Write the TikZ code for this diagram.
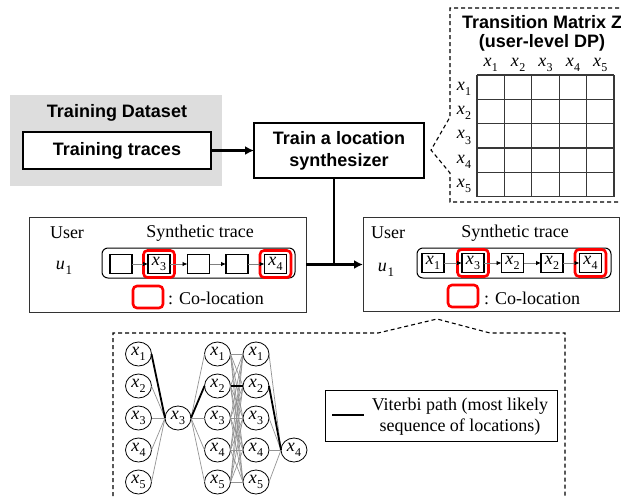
\documentclass[tikz,border=0pt]{standalone}
\usepackage{fontspec}
\setmainfont{Liberation Serif}
\setsansfont{Liberation Sans}
\usetikzlibrary{arrows.meta,shapes.geometric}

% location symbol x_i and user symbol u_i
\newcommand\loc[1]{\textit{x}\kern0.3pt\raisebox{-0.3em}{\fontsize{12}{12}\selectfont #1}}
\newcommand\usr[1]{\textit{u}\kern0.6pt\raisebox{-0.3em}{\fontsize{13}{13}\selectfont #1}}

\begin{document}
\begin{tikzpicture}[x=1pt,y=-1pt,
  every node/.style={inner sep=0pt, outer sep=0pt},
  txt/.style={font=\fontsize{18}{21}\selectfont},
  bold/.style={font=\fontsize{18}{22}\selectfont\sffamily\bfseries},
  heavybox/.style={draw=black, line width=2pt, fill=white},
  panel/.style={draw=black!80, line width=1pt, fill=white},
  track/.style={draw=black, line width=1pt, rounded corners=6pt},
  cell/.style={draw=black, line width=1.4pt, fill=white, minimum width=22pt, minimum height=19pt, txt},
  coloc/.style={draw=red, line width=2.6pt, rounded corners=4pt, minimum width=31pt, minimum height=27pt},
  hop/.style={draw=gray, line width=0.8pt, -{Latex[length=5pt,width=4.5pt,color=black]}},
  flow/.style={line width=2.2pt, -{Latex[length=9pt,width=9pt]}},
  callout/.style={draw=black, line width=1.1pt, dash pattern=on 4pt off 3pt},
  gridln/.style={draw=black!78, line width=1.2pt},
  tnode/.style={ellipse, draw=black, line width=0.8pt, fill=white, minimum width=26pt, minimum height=24pt, txt},
  weak/.style={draw=gray!85, line width=0.7pt},
  viterbi/.style={draw=black, line width=1.8pt}
]
\useasboundingbox (0,0) rectangle (621,496);

% ---------- training data ----------
\node[fill=gray!27, minimum width=212pt, minimum height=91pt] (dataset) at (116,140.5) {};
\node[bold] (datasettitle) at (117,113) {Training Dataset};
\node[heavybox, minimum width=188pt, minimum height=37pt, bold] (traces) at (117,150.5) {Training traces};

% ---------- synthesizer ----------
\node[heavybox, minimum width=170pt, minimum height=55pt, bold, align=center] (train) at (339,150.5)
  {Train a location\\synthesizer};
\draw[flow] (traces) -- (train);

% ---------- transition matrix callout ----------
\draw[callout] (640,8) -- (450,8) -- (450,117) -- (431,150) -- (450,173) -- (450,202) -- (640,202);
\node[bold, anchor=west] (mtitle) at (462,22) {Transition Matrix Z};
\node[bold] (msub) at (542,43) {(user-level DP)};
\foreach \i in {0,...,5} {
  \draw[gridln] ({477+27.4*\i},75) -- ({477+27.4*\i},196.7);
  \draw[gridln] (477,{75+24.34*\i}) -- (614,{75+24.34*\i});
}
\foreach \i in {1,...,5} {
  \node[txt] (col\i) at ({477+27.4*(\i-0.5)},65) {\loc{\i}};
  \node[txt] (row\i) at (464,{75+24.34*(\i-0.5)+1.5}) {\loc{\i}};
}

% ---------- left synthetic trace ----------
\node[panel, minimum width=277pt, minimum height=95pt] (lbox) at (167.5,264.5) {};
\node[txt] (luser) at (67,233) {User};
\node[txt] (ltitle) at (200,233) {Synthetic trace};
\node[txt] (lu) at (64,268) {\usr{1}};
\node[track, minimum width=193pt, minimum height=30pt] (ltrack) at (198.5,263) {};
\node[coloc] (lred1) at (159,264) {};
\node[coloc] (lred2) at (275.5,264) {};
\node[cell] (l1) at (121,264) {};
\node[cell] (l2) at (159,264) {\loc{3}};
\node[cell] (l3) at (198.5,264) {};
\node[cell] (l4) at (237,264) {};
\node[cell] (l5) at (275.5,264) {\loc{4}};
\foreach \a/\b in {l1/l2,l2/l3,l3/l4,l4/l5} \draw[hop] (\a) -- (\b);
\node[coloc, minimum width=30pt, minimum height=22pt] (lkey) at (148,297) {};
\node[txt, anchor=west] (lkeytxt) at (168,298) {: Co-location};

% ---------- right synthetic trace ----------
\node[panel, minimum width=256pt, minimum height=94pt] (rbox) at (491,264.5) {};
\node[txt] (ruser) at (388,233) {User};
\node[txt] (rtitle) at (515,233) {Synthetic trace};
\node[txt] (ru) at (386,270) {\usr{1}};
\node[track, minimum width=194pt, minimum height=30pt] (rtrack) at (514,263) {};
\node[coloc] (rred1) at (473,263) {};
\node[coloc] (rred2) at (590.5,263) {};
\node[cell] (r1) at (433,263) {\loc{1}};
\node[cell] (r2) at (473,263) {\loc{3}};
\node[cell] (r3) at (512.5,263) {\loc{2}};
\node[cell] (r4) at (552,263) {\loc{2}};
\node[cell] (r5) at (590.5,263) {\loc{4}};
\foreach \a/\b in {r1/r2,r2/r3,r3/r4,r4/r5} \draw[hop] (\a) -- (\b);
\node[coloc, minimum width=30pt, minimum height=22pt] (rkey) at (463,296) {};
\node[txt, anchor=west] (rkeytxt) at (484,298) {: Co-location};

% ---------- synthesizer output ----------
\coordinate (join) at (334,264.5);
\draw[line width=2.2pt] (join |- train.south) -- (join);
\draw[flow] (lbox.east) -- (rbox.west);

% ---------- Viterbi callout ----------
\draw[callout] (113,510) -- (113,333) -- (378,333) -- (437,319) -- (490,333) -- (565,333) -- (565,510);

\foreach \r/\y in {1/354,2/386,3/418,4/450,5/482} {
  \node[tnode] (a\r) at (138.5,\y) {\loc{\r}};
  \node[tnode] (c\r) at (217.5,\y) {\loc{\r}};
  \node[tnode] (d\r) at (256,\y) {\loc{\r}};
}
\node[tnode] (b) at (178,418) {\loc{3}};
\node[tnode] (e) at (294,450) {\loc{4}};

\foreach \r in {1,...,5} {
  \draw[weak] (a\r.east) -- (b.west);
  \draw[weak] (b.east) -- (c\r.west);
  \draw[weak] (d\r.east) -- (e.west);
  \foreach \s in {1,...,5} \draw[weak] (c\r.east) -- (d\s.west);
}
\draw[viterbi] (a1.east) -- (b.west);
\draw[viterbi] (b.east) -- (c2.west);
\draw[viterbi] (c2.east) -- (d2.west);
\draw[viterbi] (d2.east) -- (e.west);

\node[draw=black, line width=0.9pt, minimum width=232pt, minimum height=51pt] (legend) at (441,415.5) {};
\coordinate (legA) at (332,415);
\coordinate (legB) at (364,415);
\draw[viterbi] (legA) -- (legB);
\node[txt, align=center] (legtxt) at (460,417) {Viterbi path (most likely\\sequence of locations)};
\end{tikzpicture}
\end{document}
